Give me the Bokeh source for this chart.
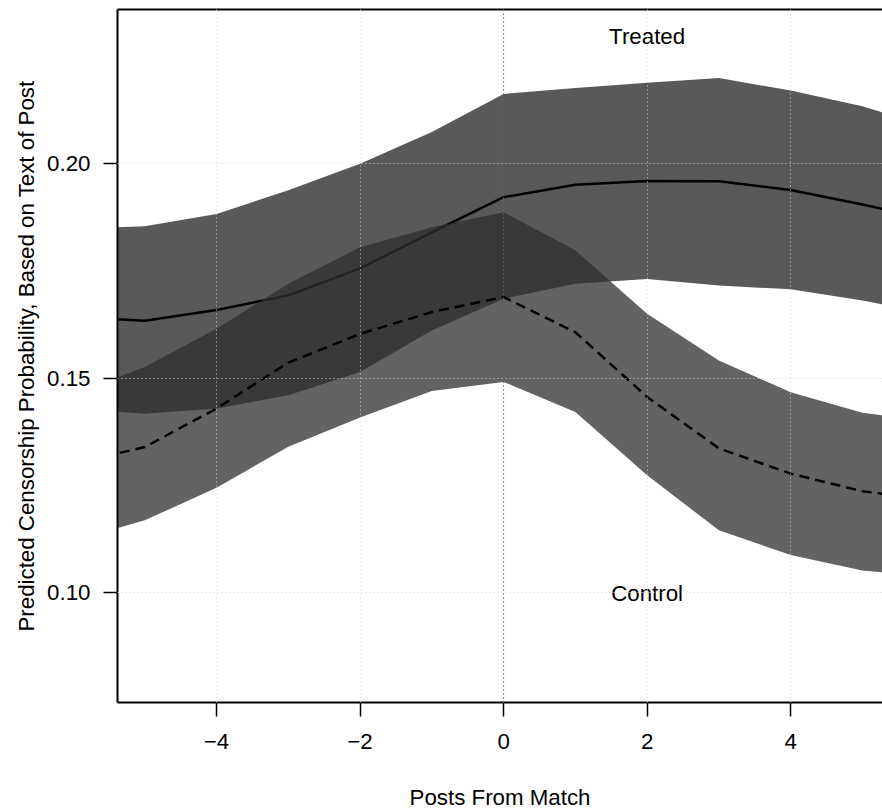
from bokeh.plotting import figure
from bokeh.models import (ColumnDataSource, FixedTicker, LinearAxis, Range1d,
                          Span, NumeralTickFormatter)
from bokeh.core.properties import value
from bokeh.embed import file_html
from bokeh.resources import INLINE

# ---- data ----
posts = [-6, -5, -4, -3, -2, -1, 0, 1, 2, 3, 4, 5, 6]
treated_mean = [0.1642, 0.1634, 0.1659, 0.1693, 0.1756, 0.1840, 0.1922, 0.1951, 0.1960, 0.1959, 0.1939, 0.1905, 0.1869]
treated_upper = [0.1849, 0.1854, 0.1883, 0.1938, 0.2000, 0.2074, 0.2163, 0.2177, 0.2189, 0.2200, 0.2171, 0.2134, 0.2084]
treated_lower = [0.1428, 0.1417, 0.1429, 0.1460, 0.1514, 0.1611, 0.1685, 0.1720, 0.1731, 0.1716, 0.1707, 0.1681, 0.1649]
control_mean = [0.1300, 0.1339, 0.1429, 0.1536, 0.1603, 0.1654, 0.1689, 0.1607, 0.1456, 0.1336, 0.1277, 0.1236, 0.1215]
control_upper = [0.1463, 0.1526, 0.1615, 0.1720, 0.1805, 0.1852, 0.1887, 0.1798, 0.1650, 0.1541, 0.1467, 0.1419, 0.1398]
control_lower = [0.1121, 0.1168, 0.1244, 0.1340, 0.1408, 0.1470, 0.1491, 0.1421, 0.1273, 0.1145, 0.1087, 0.1051, 0.1037]

x_ticks = [-4, -2, 0, 2, 4]
x_tick_labels = ["\u22124", "\u22122", "0", "2", "4"]
y_ticks = [0.10, 0.15, 0.20]

group_labels = ["Treated", "Control"]
group_label_x = [2, 2]
group_label_y = [0.2297, 0.0998]

FONT = "Liberation Sans"
FS = "22.3px"

src = ColumnDataSource(dict(x=posts, tm=treated_mean, tu=treated_upper, tl=treated_lower,
                            cm=control_mean, cu=control_upper, cl=control_lower))

p = figure(width=882, height=812, output_backend="svg", toolbar_location=None,
           x_range=Range1d(-5.38, 5.28), y_range=Range1d(0.0743, 0.2360),
           min_border_left=117, min_border_right=0, min_border_top=9, min_border_bottom=110,
           background_fill_color="white", border_fill_color="white")
p.outline_line_color = None

# bands and lines
p.varea(x="x", y1="tl", y2="tu", source=src, fill_color="#222222", fill_alpha=0.75)
p.line(x="x", y="tm", source=src, line_color="black", line_width=2.5)
p.varea(x="x", y1="cl", y2="cu", source=src, fill_color="#2f2f2f", fill_alpha=0.75)
p.line(x="x", y="cm", source=src, line_color="black", line_width=2.5, line_dash="10 6")

# text labels
lab_src = ColumnDataSource(dict(x=group_label_x, y=group_label_y, t=group_labels))
p.text(x="x", y="y", text="t", source=lab_src, text_align="center", text_baseline="middle",
       text_font=value(FONT), text_font_size=FS, text_color="black")

# vertical reference line at 0
p.add_layout(Span(location=0, dimension="height", line_color="#222222", line_width=1,
                  line_dash="1 3", level="overlay"))

# grid
p.xgrid.ticker = FixedTicker(ticks=x_ticks)
p.ygrid.ticker = FixedTicker(ticks=y_ticks)
for g in (p.xgrid[0], p.ygrid[0]):
    g.grid_line_color = "#d3d3d3"
    g.grid_line_dash = "1 3"
    g.grid_line_width = 1
    g.level = "overlay"

# axes
xa = p.xaxis[0]
xa.ticker = FixedTicker(ticks=x_ticks)
xa.major_label_overrides = {t: l for t, l in zip(x_ticks, x_tick_labels)}
ya = p.yaxis[0]
ya.ticker = FixedTicker(ticks=y_ticks)
ya.formatter = NumeralTickFormatter(format="0.00")
xa.axis_label = "Posts From Match"
ya.axis_label = "Predicted Censorship Probability, Based on Text of Post"
for a in (xa, ya):
    a.axis_line_color = "black"
    a.axis_line_width = 2
    a.major_tick_line_color = "black"
    a.major_tick_line_width = 1.5
    a.major_tick_out = 14
    a.major_tick_in = 0
    a.minor_tick_line_color = None
    a.major_label_text_font = FONT
    a.major_label_text_font_size = FS
    a.major_label_text_color = "black"
    a.axis_label_text_font = FONT
    a.axis_label_text_font_size = FS
    a.axis_label_text_font_style = "normal"
    a.axis_label_text_color = "black"
xa.major_label_standoff = 17
xa.axis_label_standoff = 33
ya.major_label_standoff = 13
ya.axis_label_standoff = 5
ya.major_label_orientation = "horizontal"

top = LinearAxis(ticker=FixedTicker(ticks=[]), axis_line_color="black", axis_line_width=2,
                 major_tick_out=0, major_tick_in=0, minor_tick_line_color=None,
                 major_label_text_font_size="0px", major_label_standoff=0)
p.add_layout(top, "above")

open("out.html", "w").write(file_html(p, INLINE))
